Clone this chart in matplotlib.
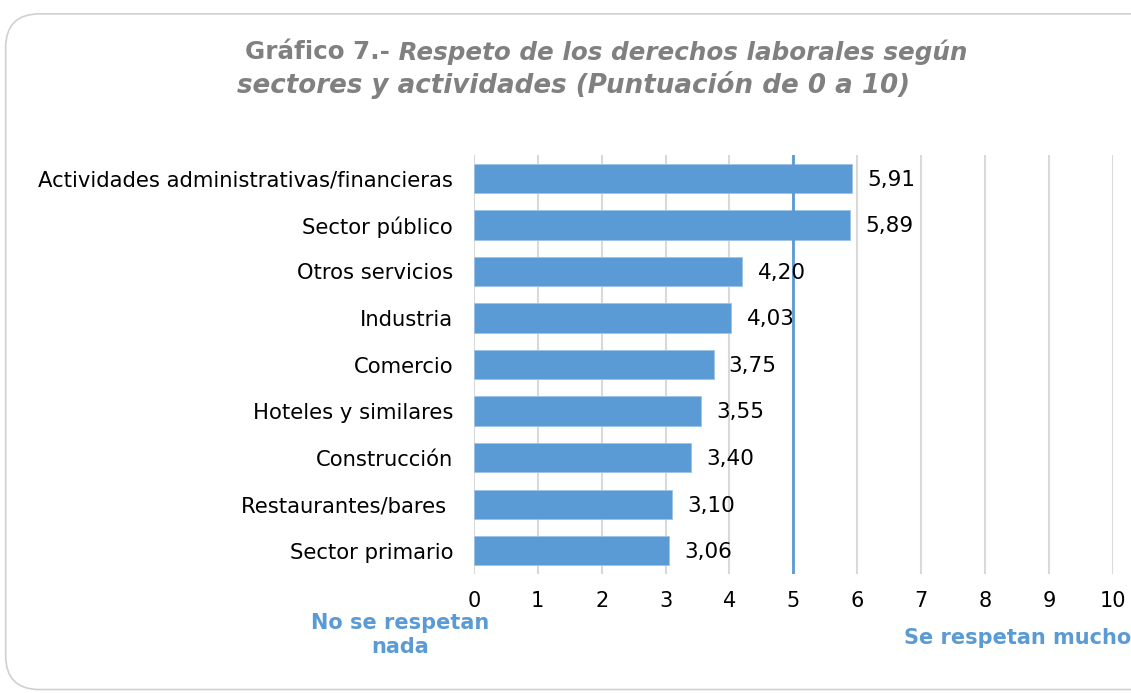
import matplotlib.pyplot as plt
from matplotlib.patches import FancyBboxPatch

plt.rcParams['font.family'] = 'DejaVu Sans'

# Datos
sectores = ['Actividades administrativas/financieras', 'Sector público', 'Otros servicios',
            'Industria', 'Comercio', 'Hoteles y similares', 'Construcción',
            'Restaurantes/bares ', 'Sector primario']
puntuacion = [5.91, 5.89, 4.20, 4.03, 3.75, 3.55, 3.40, 3.10, 3.06]
ticks = list(range(0, 11))

azul = '#5b9bd5'
gris = '#808080'

fig = plt.figure(figsize=(11.31, 6.93), dpi=100)

# Marco redondeado
marco = FancyBboxPatch((0.005, 0.005), 1.1, 0.975, boxstyle='round,pad=0,rounding_size=0.03',
                       transform=fig.transFigure, facecolor='white', edgecolor='#d0d0d0',
                       linewidth=1.2, mutation_aspect=1131/693, zorder=-10)
fig.patches.append(marco)

ax = fig.add_axes([0.419, 0.1717, 0.565, 0.6046])
ax.patch.set_alpha(0)
y = list(range(len(sectores)))
ax.barh(y, puntuacion, height=0.63, color=azul, edgecolor='#9dc3e6', linewidth=0.6, zorder=3)
ax.set_ylim(len(sectores) - 0.5, -0.5)
ax.set_xlim(0, 10)
ax.set_xticks(ticks)
ax.set_xticklabels([str(t) for t in ticks], fontsize=15)
ax.set_yticks(y)
ax.set_yticklabels(sectores, fontsize=15.2)
ax.tick_params(axis='x', length=0, pad=12)
ax.tick_params(axis='y', length=0, pad=15)
ax.grid(axis='x', color='#d9d9d9', linewidth=1.5, zorder=0)
for s in ax.spines.values():
    s.set_visible(False)
ax.axvline(5, color=azul, linewidth=2, zorder=4)

for yi, v in zip(y, puntuacion):
    ax.annotate(f'{v:.2f}'.replace('.', ','), (v, yi), xytext=(11, -1), textcoords='offset points',
                va='center', ha='left', fontsize=15.5, color='black', zorder=5)

# Título
t1 = fig.text(0.2165, 0.925, 'Gráfico 7.-', fontsize=17.7, fontweight='bold', color=gris,
              ha='left', va='center')
fig.canvas.draw()
bb = t1.get_window_extent(renderer=fig.canvas.get_renderer())
x2 = bb.x1 / fig.bbox.width
fig.text(x2, 0.925, ' Respeto de los derechos laborales según', fontsize=17.7, fontweight='bold',
         fontstyle='italic', color=gris, ha='left', va='center')
fig.text(0.5075, 0.877, 'sectores y actividades (Puntuación de 0 a 10)', fontsize=18.8,
         fontweight='bold', fontstyle='italic', color=gris, ha='center', va='center')

# Etiquetas extremos
fig.text(0.354, 0.084, 'No se respetan\nnada', fontsize=15, fontweight='bold', color=azul,
         ha='center', va='center', linespacing=1.25)
fig.text(0.799, 0.079, 'Se respetan mucho', fontsize=15, fontweight='bold', color=azul,
         ha='left', va='center')

plt.savefig('out.png', dpi=100)
